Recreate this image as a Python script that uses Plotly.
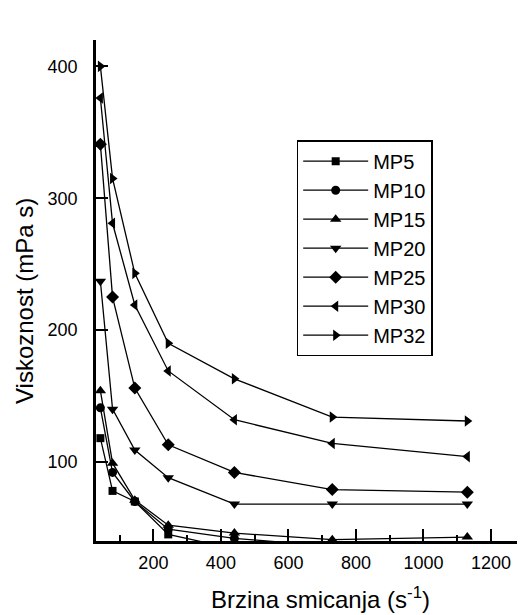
import plotly.graph_objects as go

shear_rate = [43, 79, 145, 244, 440, 730, 1130]
series_names = ["MP5", "MP10", "MP15", "MP20", "MP25", "MP30", "MP32"]
mp5 = [118, 78, 70, 45, 34, 31, 30]
mp10 = [141, 92, 70, 49, 42, 36, 35]
mp15 = [154, 99, 71, 52, 46, 41, 43]
mp20 = [237, 140, 109, 88, 68, 68, 68]
mp25 = [341, 225, 156, 113, 92, 79, 77]
mp30 = [376, 281, 219, 169, 132, 114, 104]
mp32 = [400, 315, 243, 190, 163, 134, 131]
series_values = [mp5, mp10, mp15, mp20, mp25, mp30, mp32]
symbols = ["square", "circle", "triangle-up", "triangle-down", "diamond", "triangle-left", "triangle-right"]
marker_sizes = [8, 9, 10, 10, 10, 10, 10]

x_tick_vals = [200, 400, 600, 800, 1000, 1200]
x_minor_vals = [100, 300, 500, 700, 900, 1100]
y_tick_vals = [100, 200, 300, 400]
x_title = "Brzina smicanja (s<sup>-1</sup>)"
y_title = "Viskoznost (mPa s)"

FONT = "Arial, Liberation Sans, sans-serif"

fig = go.Figure()
for name, vals, sym, ms in zip(series_names, series_values, symbols, marker_sizes):
    fig.add_trace(go.Scatter(
        x=shear_rate, y=vals, name=name, mode="lines+markers",
        line=dict(color="black", width=1.3),
        marker=dict(symbol=sym, size=ms, color="black"),
        cliponaxis=True,
    ))

# page body has an 8px margin, so the figure is 8px smaller and margins offset
fig.update_layout(
    width=517, height=607,
    margin=dict(l=88, r=2, t=32, b=74, autoexpand=False),
    paper_bgcolor="white", plot_bgcolor="white",
    font=dict(family=FONT, color="black", size=18),
    legend=dict(
        x=0.47, y=0.80, xanchor="left", yanchor="top",
        bgcolor="white", bordercolor="black", borderwidth=1.5,
        font=dict(size=20, family=FONT), itemwidth=65,
    ),
    showlegend=True,
    annotations=[
        dict(text=x_title, xref="paper", yref="paper", x=0.5246, y=-0.113,
             xanchor="center", yanchor="middle", showarrow=False,
             font=dict(size=24, family=FONT, color="black")),
        dict(text=y_title, xref="paper", yref="paper", x=-0.1686, y=0.479,
             xanchor="center", yanchor="middle", showarrow=False, textangle=-90,
             font=dict(size=24, family=FONT, color="black")),
    ],
)
fig.update_xaxes(
    range=[30, 1295], showline=True, linewidth=2.5, linecolor="black",
    showgrid=False, zeroline=False, automargin=False,
    tickvals=x_tick_vals, ticks="inside", ticklen=12, tickwidth=1.5, tickcolor="black",
    minor=dict(tickvals=x_minor_vals, ticks="inside", ticklen=6, tickwidth=1.5, tickcolor="black"),
    ticklabelstandoff=4,
    tickfont=dict(size=18),
)
fig.update_yaxes(
    range=[40, 420], showline=True, linewidth=2.5, linecolor="black",
    showgrid=False, zeroline=False, automargin=False,
    tickvals=y_tick_vals, ticks="inside", ticklen=12, tickwidth=1.5, tickcolor="black",
    ticklabelstandoff=12,
    tickfont=dict(size=18),
)

fig.write_html("out.html")
